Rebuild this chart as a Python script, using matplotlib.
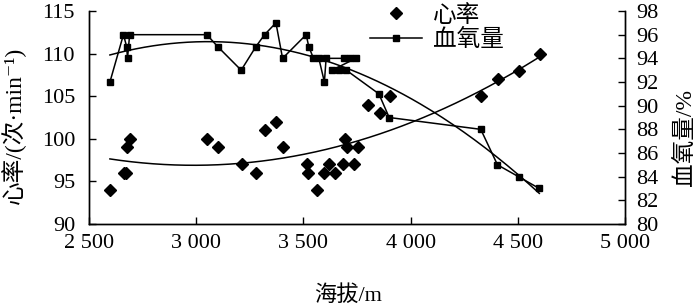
"""
plot.py
-------
Heart rate and blood oxygen against altitude, with quadratic trend lines.
Left axis: heart rate (diamonds), right axis: blood oxygen (squares + line).
"""

import numpy as np
import matplotlib

matplotlib.use("Agg")
import matplotlib.pyplot as plt
from matplotlib.ticker import FuncFormatter, MultipleLocator

# heart rate samples (altitude in m, beats per min)
hr_altitude = [2598, 2665, 2675, 2679, 2691, 3050, 3101, 3213, 3280, 3319,
               3374, 3405, 3517, 3522, 3564, 3595, 3618, 3647, 3684, 3696,
               3704, 3735, 3755, 3800, 3855, 3903, 4327, 4408, 4506, 4604]
hr_values = [94, 96, 96, 99, 100, 100, 99, 97, 96, 101,
             102, 99, 97, 96, 94, 96, 97, 96, 97, 100,
             99, 97, 99, 104, 103, 105, 105, 107, 108, 110]

# blood oxygen samples, in the order they were joined in the figure
spo2_altitude = [2598, 2661, 2676, 2680, 2690, 3050, 3100, 3210, 3279, 3319,
                 3372, 3403, 3513, 3525, 3547, 3572, 3598, 3606, 3690, 3717,
                 3745, 3633, 3665, 3700, 3852, 3900, 4327, 4405, 4503, 4600]
spo2_values = [92, 96, 95, 94, 96, 96, 95, 93, 95, 96,
               97, 94, 96, 95, 94, 94, 92, 94, 94, 94,
               94, 93, 93, 93, 91, 89, 88, 85, 84, 83]

series_names = ["心率", "血氧量"]
x_ticks = [2500, 3000, 3500, 4000, 4500, 5000]

FONTS = ["Liberation Serif", "Noto Sans CJK SC", "DejaVu Serif"]


def thousands(v, _pos):
    return f"{int(v):,}".replace(",", " ")


def trend(ax, x, y, deg=2):
    # least-squares polynomial trend over the data range
    coef = np.polyfit(x, y, deg)
    xs = np.linspace(min(x), max(x), 200)
    ax.plot(xs, np.polyval(coef, xs), color="black", lw=1.1)


def main() -> None:
    plt.rcParams["font.family"] = FONTS
    plt.rcParams["axes.linewidth"] = 1.0

    fig = plt.figure(figsize=(7.0, 3.06), dpi=100)
    ax = fig.add_axes([0.127, 0.268, 0.766, 0.696])
    ax2 = ax.twinx()

    hr_pts, = ax.plot(hr_altitude, hr_values, linestyle="none", marker="D",
                      ms=6, color="black", label=series_names[0])
    trend(ax, hr_altitude, hr_values)

    ox_line, = ax2.plot(spo2_altitude, spo2_values, marker="s", ms=5,
                        color="black", lw=1.1, label=series_names[1])
    trend(ax2, spo2_altitude, spo2_values)

    ax.set_xlim(2500, 5000)
    ax.set_ylim(90, 115)
    ax2.set_ylim(80, 98)
    ax.set_xticks(x_ticks)
    ax.xaxis.set_major_formatter(FuncFormatter(thousands))
    ax.yaxis.set_major_locator(MultipleLocator(5))
    ax2.yaxis.set_major_locator(MultipleLocator(2))

    for a in (ax, ax2):
        a.spines["top"].set_visible(False)
        a.tick_params(direction="in", length=5, width=1.0, labelsize=16)
    ax.tick_params(axis="y", pad=10)
    ax.tick_params(axis="x", pad=7)
    ax2.tick_params(axis="y", pad=8)

    ax.set_xlabel("海拔/m", fontsize=16)
    ax.xaxis.set_label_coords(0.483, -0.335)
    ax.xaxis.label.set_va("center")

    ax.set_ylabel("心率/(次·min⁻¹)", fontsize=17)
    ax.yaxis.set_label_coords(-0.140, 0.465)
    ax.yaxis.label.set_va("center")

    ax2.set_ylabel("血氧量/%", fontsize=17, rotation=90)
    ax2.yaxis.set_label_coords(1.112, 0.408)
    ax2.yaxis.label.set_va("center")

    fig.legend([hr_pts, ox_line], series_names, loc="upper left",
               bbox_to_anchor=(370 / 700, 0.985), frameon=False, fontsize=17,
               handlelength=2.2, handletextpad=0.45, labelspacing=0.1,
               borderpad=0.0, borderaxespad=0.0, numpoints=1)

    fig.savefig("out.png", dpi=100)


if __name__ == "__main__":
    main()
